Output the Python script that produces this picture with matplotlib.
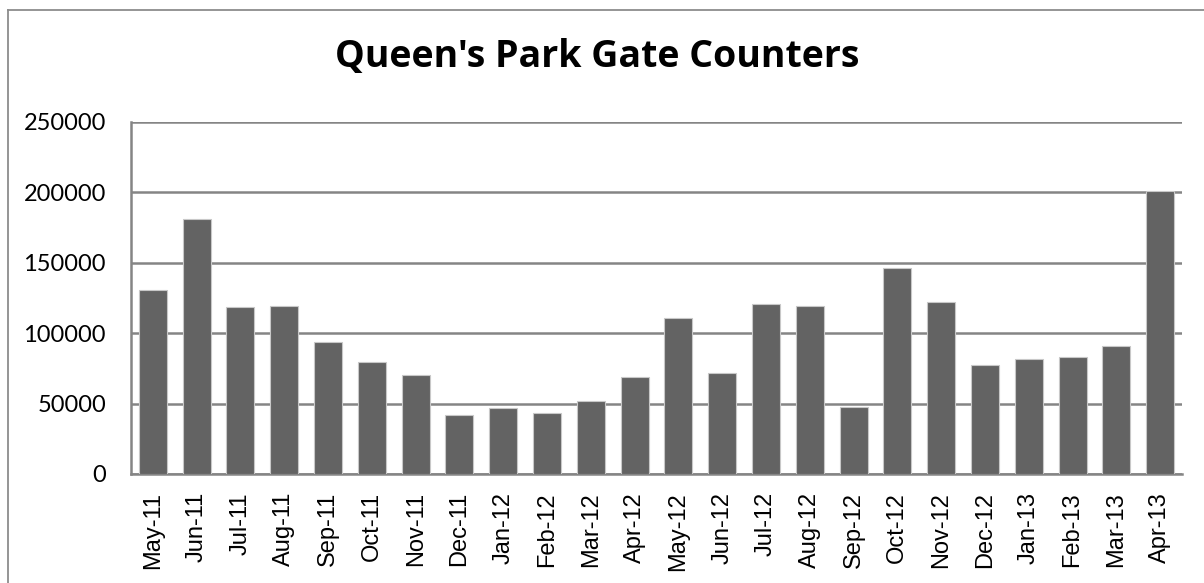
import matplotlib
matplotlib.use("Agg")
import matplotlib.pyplot as plt
from matplotlib.lines import Line2D

months = ["May-11", "Jun-11", "Jul-11", "Aug-11", "Sep-11", "Oct-11", "Nov-11", "Dec-11",
          "Jan-12", "Feb-12", "Mar-12", "Apr-12", "May-12", "Jun-12", "Jul-12", "Aug-12",
          "Sep-12", "Oct-12", "Nov-12", "Dec-12", "Jan-13", "Feb-13", "Mar-13", "Apr-13"]
counts = [131000, 181000, 118300, 119000, 93400, 79700, 70000, 41900,
          47100, 43000, 52000, 68800, 110500, 71400, 120400, 119400,
          47800, 146400, 122000, 77600, 81600, 82800, 90800, 201300]
y_ticks = [0, 50000, 100000, 150000, 200000, 250000]
title = "Queen's Park Gate Counters"

fig = plt.figure(figsize=(12.04, 5.83), dpi=100)
ax = fig.add_axes([131/1204, 1-474/583, (1182-131)/1204, (474-122)/583])

x = list(range(len(months)))
ax.bar(x, counts, width=0.64, color="#636363", edgecolor="#c8c8c8", linewidth=0.8, zorder=3)
ax.set_xlim(-0.5, len(months)-0.5)
ax.set_ylim(0, 250000)
ax.set_yticks(y_ticks)
ax.set_yticklabels([str(v) for v in y_ticks], fontfamily="Lato", fontsize=17)
ax.set_xticks(x)
ax.set_xticklabels(months, rotation=90, fontfamily="Liberation Sans", fontsize=17)
ax.tick_params(axis="y", length=0, pad=18)
ax.tick_params(axis="x", length=0, pad=13)
ax.grid(axis="y", color="#858585", linewidth=1.8, zorder=0)
for s in ["top", "right"]:
    ax.spines[s].set_visible(False)
ax.spines["left"].set_color("#858585")
ax.spines["left"].set_linewidth(1.8)
ax.spines["bottom"].set_color("#858585")
ax.spines["bottom"].set_linewidth(1.8)

fig.text(597/1204, 1-67/583, title, ha="center", va="baseline", fontsize=27,
         fontweight="bold", fontfamily="Open Sans")

# chart border (left and top visible)
fig.add_artist(Line2D([8/1204, 8/1204], [0, 1-10/583], transform=fig.transFigure, color="#8c8c8c", linewidth=1.3))
fig.add_artist(Line2D([8/1204, 1], [1-10/583, 1-10/583], transform=fig.transFigure, color="#8c8c8c", linewidth=1.3))

fig.savefig("out.png", dpi=100)
